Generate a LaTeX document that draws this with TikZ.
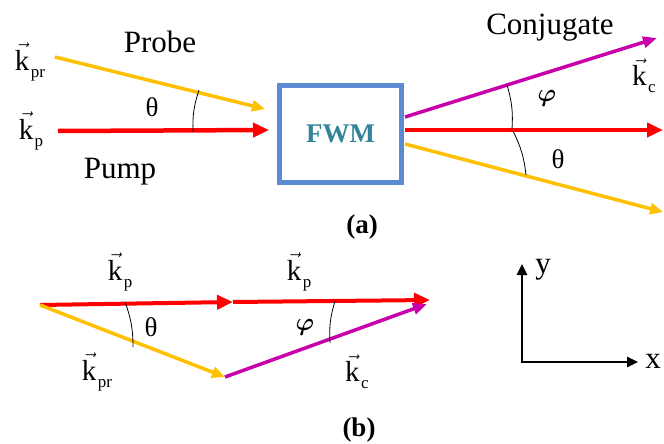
\documentclass[tikz,border=0pt]{standalone}
\usepackage{fontspec}
\setmainfont{Liberation Serif}
\usetikzlibrary{arrows.meta, positioning}
\definecolor{pumpred}{HTML}{FF0000}
\definecolor{probeorange}{HTML}{FFC000}
\definecolor{conjpurple}{HTML}{C800AA}
\definecolor{boxblue}{HTML}{5A8AD2}
\definecolor{fwmtext}{HTML}{31849B}
\newcommand{\kvec}[1]{$\vec{\hbox{k}}$\kern1.5pt\raisebox{-7pt}{\fontsize{17}{17}\selectfont #1}}

\begin{document}
\begin{tikzpicture}[x=1pt, y=-1pt, >=Triangle]
    \tikzset{lbl/.style={font=\fontsize{31}{33}\selectfont, inner sep=0pt},
      klbl/.style={font=\fontsize{29}{31}\selectfont, inner sep=0pt},
      greek/.style={font=\fontsize{27}{29}\selectfont, inner sep=0pt},
      phi/.style={font=\fontsize{26}{28}\selectfont\mathversion{bold}, inner sep=0pt},
      caption/.style={font=\fontsize{27}{29}\selectfont\bfseries, inner sep=0pt},
      pumpbeam/.style={draw=pumpred, line width=4.5pt, -{Triangle[length=16pt, width=14pt]}},
      probebeam/.style={draw=probeorange, line width=3.5pt, -{Triangle[length=13pt, width=11pt]}},
      conjbeam/.style={draw=conjpurple, line width=3.5pt, -{Triangle[length=14pt, width=11pt]}},
      anglemark/.style={draw=black, line width=0.8pt},
      axis/.style={draw=black, line width=2.5pt, {Triangle[length=11pt, width=10pt]}-{Triangle[length=11pt, width=10pt]}}}

    \useasboundingbox (0,0) rectangle (664,444);

    % (a) four-wave mixing
    \node[draw=boxblue, line width=5pt, minimum width=122pt, minimum height=97pt, inner sep=0pt,
      font=\fontsize{27}{29}\selectfont\bfseries, text=fwmtext] (fwm) at (340.5,134) {FWM};

    \coordinate (prS) at (55,57);
    \coordinate (prE) at (265,109);
    \coordinate (pS) at (58,131);
    \coordinate (pE) at (269,130);
    \coordinate (cS) at (405,117);
    \coordinate (cE) at (657,38);
    \coordinate (pS2) at (405,130);
    \coordinate (pE2) at (663,130);
    \coordinate (prS2) at (405,144);
    \coordinate (prE2) at (663,212);

    \draw[probebeam] (prS) -- (prE);
    \draw[pumpbeam] (pS) -- (pE);
    \draw[conjbeam] (cS) -- (cE);
    \draw[pumpbeam] (pS2) -- (pE2);
    \draw[probebeam] (prS2) -- (prE2);

    \coordinate (th1a) at (199,90);
    \coordinate (th1b) at (193,132);
    \coordinate (ph1a) at (507,85);
    \coordinate (ph1b) at (512,129);
    \coordinate (th2a) at (513,131);
    \coordinate (th2b) at (526,175);
    \draw[anglemark] (th1a) to[bend right=10] (th1b);
    \draw[anglemark] (ph1a) to[bend left=10] (ph1b);
    \draw[anglemark] (th2a) to[bend left=10] (th2b);

    \node[klbl] (kpr) at (30,62) {\kvec{pr}};
    \node[klbl] (kp) at (31,131) {\kvec{p}};
    \node[lbl] (probe) at (160,42) {Probe};
    \node[lbl] (pump) at (120,172) {Pump};
    \node[greek] (th1) at (152,107) {θ};
    \node[lbl] (conj) at (550,28) {Conjugate};
    \node[klbl] (kc) at (644,76) {\kvec{c}};
    \node[phi] (ph1) at (547,98) {$\varphi$};
    \node[greek] (th2) at (558,159) {θ};
    \node[caption] (capa) at (362,227) {(a)};

    % (b) phase matching
    \coordinate (O) at (40,305);
    \coordinate (M) at (233,302);
    \coordinate (T) at (430,300);
    \coordinate (B) at (225,377);
    \coordinate (Tc) at (427,304);

    \draw[pumpbeam, line width=4pt] (O) -- (M);
    \draw[pumpbeam, line width=4pt] (M) -- (T);
    \draw[probebeam] (O) -- (B);
    \draw[conjbeam] (B) -- (Tc);

    \coordinate (th3a) at (125,302);
    \coordinate (th3b) at (133,347);
    \coordinate (ph3a) at (335,301);
    \coordinate (ph3b) at (330,343);
    \draw[anglemark] (th3a) to[bend left=10] (th3b);
    \draw[anglemark] (ph3a) to[bend right=10] (ph3b);

    \node[klbl] (kp1) at (120,272) {\kvec{p}};
    \node[klbl] (kp2) at (299,272) {\kvec{p}};
    \node[greek] (th3) at (151,327) {θ};
    \node[phi] (ph3) at (305,327) {$\varphi$};
    \node[klbl] (kpr2) at (97,372) {\kvec{pr}};
    \node[klbl] (kc2) at (357,372) {\kvec{c}};
    \node[caption] (capb) at (359,430) {(b)};

    % axes
    \coordinate (axY) at (522,264);
    \coordinate (axX) at (638,362);
    \draw[axis] (axY) |- (axX);
    \node[lbl] (ylbl) at (543,270) {y};
    \node[lbl] (xlbl) at (653,361) {x};
\end{tikzpicture}
\end{document}
